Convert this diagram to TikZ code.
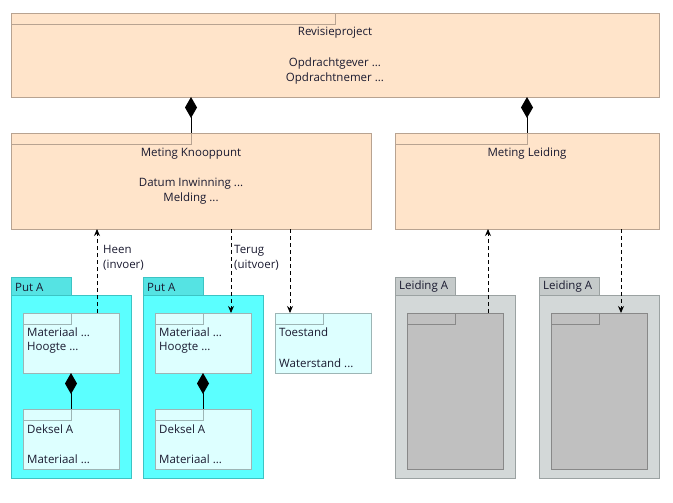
\documentclass[tikz,border=0pt]{standalone}
\usepackage{fontspec}
\setmainfont{Open Sans}
\usetikzlibrary{arrows.meta}
\definecolor{peach}{HTML}{FFE4CA}
\definecolor{peachline}{HTML}{B8A391}
\definecolor{cyanbody}{HTML}{5BFFFF}
\definecolor{cyantab}{HTML}{55E3E3}
\definecolor{cyanline}{HTML}{3CC4C4}
\definecolor{cyaninner}{HTML}{DDFFFF}
\definecolor{cyaninnerline}{HTML}{9DB5B5}
\definecolor{greybody}{HTML}{D3D8D8}
\definecolor{greytab}{HTML}{C5CACA}
\definecolor{greyline}{HTML}{9BA2A2}
\definecolor{greyinner}{HTML}{C0C0C0}
\definecolor{greyinnerline}{HTML}{888888}
\definecolor{ink}{HTML}{1A1A30}

\tikzset{
  box/.style={anchor=north west, inner sep=0pt, outer sep=0pt, line width=0.9pt},
  txt/.style={inner sep=0pt, text=ink, font=\fontsize{11.5}{15}\selectfont},
  comp/.style={line width=0.9pt, -{Diamond[length=21pt,width=12pt]}},
  dep/.style={line width=0.9pt, dash pattern=on 4pt off 3pt, -{Stealth[length=7pt,width=6pt]}}
}

\begin{document}
\begin{tikzpicture}[x=1pt,y=-1pt]
\useasboundingbox (0,0) rectangle (673,503);

% top classes
\node[box, draw=peachline, fill=peach, minimum width=648pt, minimum height=84pt] (revisie) at (11,13) {};
\draw[peachline, line width=0.9pt] (revisie.north west) rectangle (335,24);
\node[txt] (revisietitel) at (335,33) {Revisieproject};
\node[txt] (gever) at (335,64) {Opdrachtgever ...};
\node[txt] (nemer) at (335,79) {Opdrachtnemer ...};

\node[box, draw=peachline, fill=peach, minimum width=360pt, minimum height=96pt] (knoop) at (11,133) {};
\draw[peachline, line width=0.9pt] (knoop.north west) rectangle (191,144);
\node[txt] (knooptitel) at (191,154) {Meting Knooppunt};
\node[txt] (datum) at (191,184) {Datum Inwinning ...};
\node[txt] (melding) at (191,199) {Melding ...};

\node[box, draw=peachline, fill=peach, minimum width=264pt, minimum height=96pt] (leiding) at (395,133) {};
\draw[peachline, line width=0.9pt] (leiding.north west) rectangle (527,144);
\node[txt] (leidingtitel) at (527,154) {Meting Leiding};

\coordinate (knoopc) at (191,133);
\coordinate (leidingc) at (527,133);
\draw[comp] (knoopc) -- (knoopc |- revisie.south);
\draw[comp] (leidingc) -- (leidingc |- revisie.south);

% put packages
\foreach \i/\x in {1/11,2/143} {
  \node[box, draw=cyanline, fill=cyantab, minimum width=60pt, minimum height=18pt] (puttab\i) at (\x,277) {};
  \node[txt, anchor=west] (putlabel\i) at (\x+4,287) {Put A};
  \node[box, draw=cyanline, fill=cyanbody, minimum width=120pt, minimum height=183pt] (put\i) at (\x,295) {};
  \node[box, draw=cyaninnerline, fill=cyaninner, minimum width=96pt, minimum height=60pt] (mat\i) at (\x+12,313) {};
  \draw[cyaninnerline, line width=0.9pt] (mat\i.north west) rectangle ++(48,11);
  \node[txt, anchor=west] (materiaal\i) at (\x+16,332) {Materiaal ...};
  \node[txt, anchor=west] (hoogte\i) at (\x+16,348) {Hoogte ...};
  \node[box, draw=cyaninnerline, fill=cyaninner, minimum width=96pt, minimum height=60pt] (deksel\i) at (\x+12,409) {};
  \draw[cyaninnerline, line width=0.9pt] (deksel\i.north west) rectangle ++(48,11);
  \node[txt, anchor=west] (dekseltitel\i) at (\x+16,429) {Deksel A};
  \node[txt, anchor=west] (dekselmat\i) at (\x+16,459) {Materiaal ...};
  \coordinate (dk\i) at (\x+60,409);
  \draw[comp] (dk\i) -- (dk\i |- mat\i.south);
}

% toestand
\node[box, draw=cyaninnerline, fill=cyaninner, minimum width=96pt, minimum height=60pt] (toestand) at (275,313) {};
\draw[cyaninnerline, line width=0.9pt] (toestand.north west) rectangle ++(48,11);
\node[txt, anchor=west] (toestandtitel) at (279,332) {Toestand};
\node[txt, anchor=west] (waterstand) at (279,363) {Waterstand ...};

% leiding packages
\foreach \i/\x in {1/395,2/539} {
  \node[box, draw=greyline, fill=greytab, minimum width=60pt, minimum height=18pt] (leidtab\i) at (\x,277) {};
  \node[txt, anchor=west] (leidlabel\i) at (\x+4,287) {Leiding A};
  \node[box, draw=greyline, fill=greybody, minimum width=120pt, minimum height=183pt] (leid\i) at (\x,295) {};
  \node[box, draw=greyinnerline, fill=greyinner, minimum width=96pt, minimum height=156pt] (leidin\i) at (\x+12,313) {};
  \draw[greyinnerline, line width=0.9pt] (leidin\i.north west) rectangle ++(48,11);
}

% dependencies
\coordinate (heen) at (97,313);
\draw[dep] (heen) -- (heen |- knoop.south);
\node[txt, anchor=north west, align=left] (heenlabel) at (103,245) {Heen\\(invoer)};
\coordinate (terug) at (231,229);
\draw[dep] (terug) -- (terug |- mat2.north);
\node[txt, anchor=north west, align=left] (teruglabel) at (234,245) {Terug\\(uitvoer)};
\coordinate (toe) at (290,229);
\draw[dep] (toe) -- (toe |- toestand.north);
\coordinate (leidheen) at (488,313);
\draw[dep] (leidheen) -- (leidheen |- leiding.south);
\coordinate (leidterug) at (621,229);
\draw[dep] (leidterug) -- (leidterug |- leidin2.north);
\end{tikzpicture}
\end{document}
